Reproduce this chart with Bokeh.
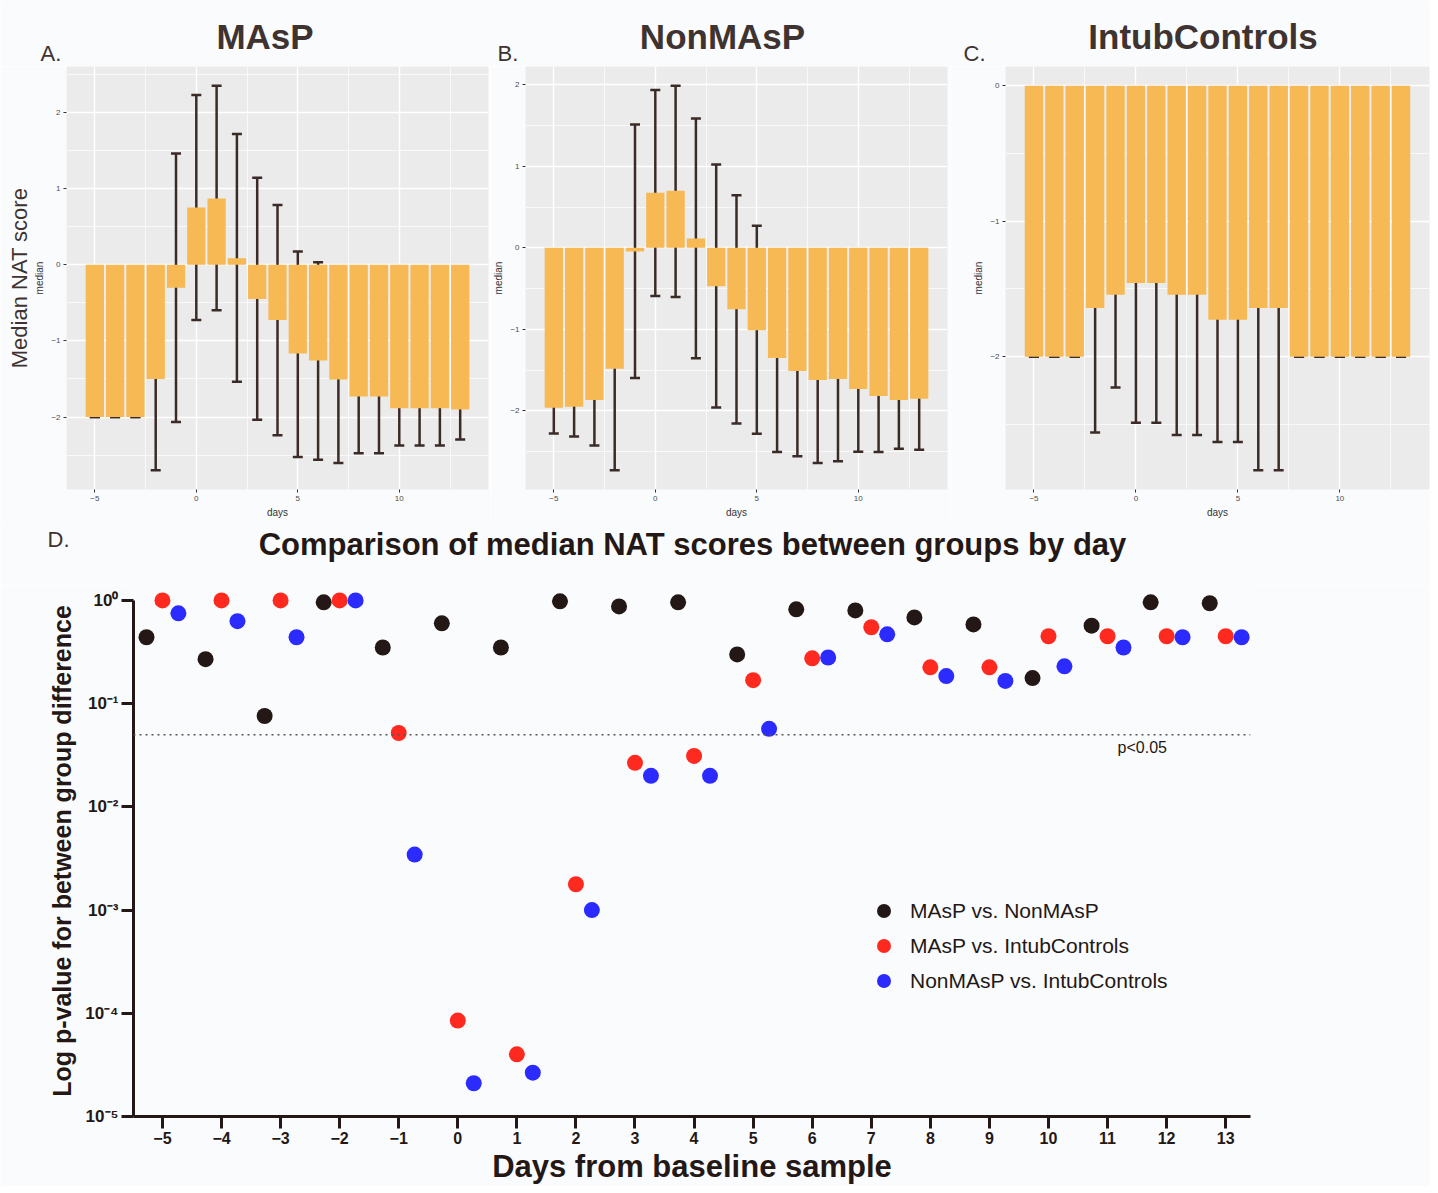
import math
from bokeh.plotting import figure
from bokeh.models import (ColumnDataSource, Whisker, TeeHead, FixedTicker, CustomJSTickFormatter,
                          Label, Span, Legend, LegendItem, Range1d, Title)
from bokeh.layouts import column, row
from bokeh.embed import file_html
from bokeh.resources import INLINE

# ---------------- data ----------------
days = list(range(-5, 14))

masp_median = [-2.0, -2.0, -2.0, -1.5, -0.30, 0.755, 0.873, 0.087, -0.45, -0.725, -1.166, -1.258,
               -1.507, -1.73, -1.73, -1.886, -1.886, -1.886, -1.9]
masp_upper = [-2.0, -2.0, -2.0, -0.288, 1.463, 2.231, 2.354, 1.72, 1.144, 0.786, 0.175, 0.035,
              -0.419, -0.978, -0.978, -1.393, -1.393, -1.393, -1.511]
masp_lower = [-2.0, -2.0, -2.0, -2.70, -2.065, -0.725, -0.598, -1.537, -2.035, -2.24, -2.524, -2.563,
              -2.603, -2.476, -2.476, -2.376, -2.376, -2.376, -2.297]

nonmasp_median = [-1.963, -1.951, -1.866, -1.483, -0.045, 0.676, 0.70, 0.114, -0.473, -0.754, -1.01,
                  -1.352, -1.511, -1.621, -1.609, -1.731, -1.817, -1.866, -1.853]
nonmasp_upper = [-1.65, -1.564, -1.303, -0.228, 1.511, 1.935, 1.988, 1.585, 1.022, 0.644, 0.269,
                 -0.191, -0.448, -0.578, -0.578, -0.961, -1.112, -1.263, -1.226]
nonmasp_lower = [-2.277, -2.314, -2.424, -2.729, -1.597, -0.591, -0.603, -1.356, -1.959, -2.155, -2.281,
                 -2.505, -2.558, -2.64, -2.619, -2.501, -2.505, -2.464, -2.477]

intub_median = [-2.0, -2.0, -2.0, -1.64, -1.542, -1.456, -1.456, -1.542, -1.542, -1.728, -1.728,
                -1.64, -1.64, -2.0, -2.0, -2.0, -2.0, -2.0, -2.0]
intub_upper = [-2.0, -2.0, -2.0, -0.711, -0.855, -0.419, -0.419, -0.507, -0.507, -0.824, -0.824,
               -0.431, -0.431, -2.0, -2.0, -2.0, -2.0, -2.0, -2.0]
intub_lower = [-2.0, -2.0, -2.0, -2.559, -2.228, -2.488, -2.488, -2.578, -2.578, -2.63, -2.63,
               -2.838, -2.838, -2.0, -2.0, -2.0, -2.0, -2.0, -2.0]

p_masp_vs_nonmasp = [0.44, 0.27, 0.076, 0.96, 0.35, 0.60, 0.35, 0.98, 0.875, 0.96, 0.30, 0.82, 0.80,
                     0.685, 0.586, 0.177, 0.57, 0.96, 0.94]
p_masp_vs_intub = [1.0, 1.0, 1.0, 1.0, 0.052, 8.5e-5, 4.0e-5, 1.78e-3, 0.0267, 0.0312, 0.169, 0.275,
                   0.55, 0.225, 0.225, 0.45, 0.45, 0.45, 0.45]
p_nonmasp_vs_intub = [0.75, 0.63, 0.44, 1.0, 3.45e-3, 2.1e-5, 2.66e-5, 1.0e-3, 0.02, 0.02, 0.057, 0.28,
                      0.47, 0.185, 0.166, 0.23, 0.35, 0.44, 0.44]

panel_titles = ["MAsP", "NonMAsP", "IntubControls"]
panel_letters = ["A.", "B.", "C."]
series_labels = ["MAsP vs. NonMAsP", "MAsP vs. IntubControls", "NonMAsP vs. IntubControls"]
threshold = 0.05

# ---------------- style ----------------
BG = "#FAFBFD"
PANEL = "#EBEBEB"
BAR = "#F6B954"
ERR = "#3B2B27"
INK = "#231815"
TXT = "#3E3330"
FONT = "Liberation Sans"
W = 1430


def text_strip(height, y_top):
    """A borderless figure whose data units equal page pixels, used for free text."""
    f = figure(width=W, height=height, x_range=Range1d(0, W), y_range=Range1d(y_top + height, y_top),
               output_backend="svg", toolbar_location=None, x_axis_location=None, y_axis_location=None,
               min_border=0, min_border_left=0, min_border_right=0, min_border_top=0,
               min_border_bottom=0, background_fill_color=BG, border_fill_color=BG,
               outline_line_color=None)
    f.xgrid.visible = False
    f.ygrid.visible = False
    return f


# ---------------- header of top row ----------------
HEAD_H = 66
head = text_strip(HEAD_H, 0)
for t, cx in zip(panel_titles, [264.5, 722, 1202.5]):
    head.add_layout(Label(x=cx, y=35.5, text=t, text_font=FONT, text_font_size="35px",
                          text_font_style="bold", text_align="center", text_baseline="middle",
                          text_color=TXT))
for t, lx in zip(panel_letters, [40, 497, 963]):
    head.add_layout(Label(x=lx, y=52.5, text=t, text_font=FONT, text_font_size="22px",
                          text_align="left", text_baseline="middle", text_color=TXT))

# ---------------- top panels ----------------
F_H = 424
BOT = 30


def gg_range(lo, hi):
    s = hi - lo
    return lo - 0.05 * s, hi + 0.05 * s


minus_fmt = CustomJSTickFormatter(code="return tick < 0 ? '\u2212' + Math.abs(tick) : String(tick);")


def panel(med, up, lo, fig_w, left, frame_w, big_ylab=None):
    xr = gg_range(min(days) - 0.45, max(days) + 0.45)
    yr = gg_range(min(lo + med + [0]), max(up + med + [0]))
    p = figure(width=fig_w, height=F_H + BOT, x_range=Range1d(*xr), y_range=Range1d(*yr),
               output_backend="svg", toolbar_location=None,
               min_border_left=left, min_border_right=fig_w - left - frame_w,
               min_border_top=0, min_border_bottom=BOT,
               background_fill_color=PANEL, border_fill_color=BG, outline_line_color=None)
    src = ColumnDataSource(dict(day=days, med=med, up=up, lo=lo))
    p.vbar(x="day", top="med", bottom=0, width=0.9, source=src, fill_color=BAR, line_color=None)
    w = Whisker(source=src, base="day", upper="up", lower="lo", line_color=ERR, line_width=2.5,
                upper_head=TeeHead(size=10, line_color=ERR, line_width=2.5),
                lower_head=TeeHead(size=10, line_color=ERR, line_width=2.5))
    p.add_layout(w)

    yt = [v for v in range(-3, 4) if yr[0] <= v <= yr[1]]
    ymt = [v + 0.5 for v in range(-4, 4) if yr[0] <= v + 0.5 <= yr[1]]
    p.xaxis.ticker = FixedTicker(ticks=[-5, 0, 5, 10], minor_ticks=[-2.5, 2.5, 7.5, 12.5])
    p.yaxis.ticker = FixedTicker(ticks=yt, minor_ticks=ymt)
    p.xaxis.formatter = minus_fmt
    p.yaxis.formatter = minus_fmt
    p.xaxis.axis_label = "days"
    p.yaxis.axis_label = "median"
    for ax in (p.xaxis[0], p.yaxis[0]):
        ax.axis_line_color = None
        ax.major_tick_line_color = "#333333"
        ax.major_tick_out = 3
        ax.major_tick_in = 0
        ax.minor_tick_line_color = None
        ax.major_label_text_font = FONT
        ax.major_label_text_font_size = "8px"
        ax.major_label_text_color = "#4D4D4D"
        ax.major_label_standoff = 2
        ax.axis_label_text_font = FONT
        ax.axis_label_text_font_size = "10px"
        ax.axis_label_text_font_style = "normal"
        ax.axis_label_text_color = "#333333"
        ax.axis_label_standoff = 3
    for g in (p.xgrid[0], p.ygrid[0]):
        g.grid_line_color = "white"
        g.grid_line_width = 1.4
        g.minor_grid_line_color = "white"
        g.minor_grid_line_width = 0.7
    if big_ylab:
        p.add_layout(Title(text=big_ylab, text_font=FONT, text_font_size="22px",
                           text_font_style="normal", text_color=TXT, align="center", standoff=0),
                     "left")
    return p


pA = panel(masp_median, masp_upper, masp_lower, 490, 66, 422, big_ylab="Median NAT score")
pB = panel(nonmasp_median, nonmasp_upper, nonmasp_lower, 460, 33, 424)
pC = panel(intub_median, intub_upper, intub_lower, 480, 55, 424)

# ---------------- header of bottom panel ----------------
HD_TOP = HEAD_H + F_H + BOT     # 520
HD_H = 65
headD = text_strip(HD_H, HD_TOP)
headD.add_layout(Label(x=47, y=539, text="D.", text_font=FONT, text_font_size="22px",
                       text_align="left", text_baseline="middle", text_color=TXT))
headD.add_layout(Label(x=692, y=544, text="Comparison of median NAT scores between groups by day",
                       text_font=FONT, text_font_size="31px", text_font_style="bold",
                       text_align="center", text_baseline="middle", text_color=INK))

# ---------------- bottom panel ----------------
D_LEFT, D_RIGHT, D_TOP, D_BOTTOM = 133, 180, 0, 68
D_FH = 533
D_H = D_TOP + D_FH + D_BOTTOM
xr = (-5.49, 13.42)
ly = (-5.0, 0.145)

pD = figure(width=W, height=D_H, x_range=Range1d(*xr), y_range=Range1d(10 ** ly[0], 10 ** ly[1]),
            y_axis_type="log", output_backend="svg", toolbar_location=None,
            min_border_left=D_LEFT, min_border_right=D_RIGHT, min_border_top=D_TOP,
            min_border_bottom=D_BOTTOM, background_fill_color=BG, border_fill_color=BG,
            outline_line_color=None)
pD.xgrid.visible = False
pD.ygrid.visible = False

pD.add_layout(Span(location=threshold, dimension="width", line_color="#555555",
                   line_dash="dotted", line_width=1.6))

offsets = [-0.27, 0.0, 0.27]
colors = ["#231815", "#FF2A1F", "#2B2BFF"]
renderers = []
for vals, off, col in zip([p_masp_vs_nonmasp, p_masp_vs_intub, p_nonmasp_vs_intub], offsets, colors):
    src = ColumnDataSource(dict(x=[d + off for d in days], p=vals))
    r = pD.scatter("x", "p", source=src, size=16, fill_color=col, line_color=None)
    renderers.append(r)

legend = Legend(items=[LegendItem(label=l, renderers=[r]) for l, r in zip(series_labels, renderers)],
                location=(733, 118), label_text_font=FONT, label_text_font_size="21px",
                label_text_color=INK, glyph_width=35, glyph_height=35, label_standoff=9,
                label_height=35, spacing=0, padding=0, margin=0, border_line_color=None,
                background_fill_alpha=0)
pD.add_layout(legend)

pD.add_layout(Label(x=11.17, y=0.0375, text="p<0.05", text_font=FONT, text_font_size="16px",
                    text_align="left", text_baseline="middle", text_color=INK))

pD.xaxis.ticker = FixedTicker(ticks=days)
pD.yaxis.ticker = FixedTicker(ticks=[1e-5, 1e-4, 1e-3, 1e-2, 1e-1, 1.0])
pD.yaxis.formatter = CustomJSTickFormatter(code="""
const e = Math.round(Math.log10(tick));
const sup = {'-':'\u207B','0':'\u2070','1':'\u00B9','2':'\u00B2','3':'\u00B3','4':'\u2074','5':'\u2075','6':'\u2076','7':'\u2077','8':'\u2078','9':'\u2079'};
return '10' + String(e).split('').map(c => sup[c]).join('');
""")
pD.yaxis.bounds = (1e-5, 1.0)
pD.xaxis.axis_label = "Days from baseline sample"
pD.yaxis.axis_label = "Log p-value for between group difference"
for ax in (pD.xaxis[0], pD.yaxis[0]):
    ax.axis_line_color = INK
    ax.axis_line_width = 3
    ax.major_tick_line_color = INK
    ax.major_tick_line_width = 3
    ax.major_tick_in = 0
    ax.minor_tick_line_color = None
    ax.major_label_text_font = FONT
    ax.major_label_text_font_style = "bold"
    ax.major_label_text_color = INK
    ax.axis_label_text_font = FONT
    ax.axis_label_text_font_style = "bold"
    ax.axis_label_text_color = INK
pD.xaxis.major_tick_out = 12
pD.yaxis.major_tick_out = 12
pD.xaxis.major_label_text_font_size = "16px"
pD.yaxis.major_label_text_font_size = "17px"
pD.xaxis.major_label_standoff = 3
pD.yaxis.major_label_standoff = 3
pD.xaxis.axis_label_text_font_size = "31px"
pD.yaxis.axis_label_text_font_size = "25px"
pD.xaxis.axis_label_standoff = 2
pD.yaxis.axis_label_standoff = 6

layout = column(row(head), row(pA, pB, pC), row(headD), row(pD))
open("out.html", "w").write(file_html(layout, INLINE))
